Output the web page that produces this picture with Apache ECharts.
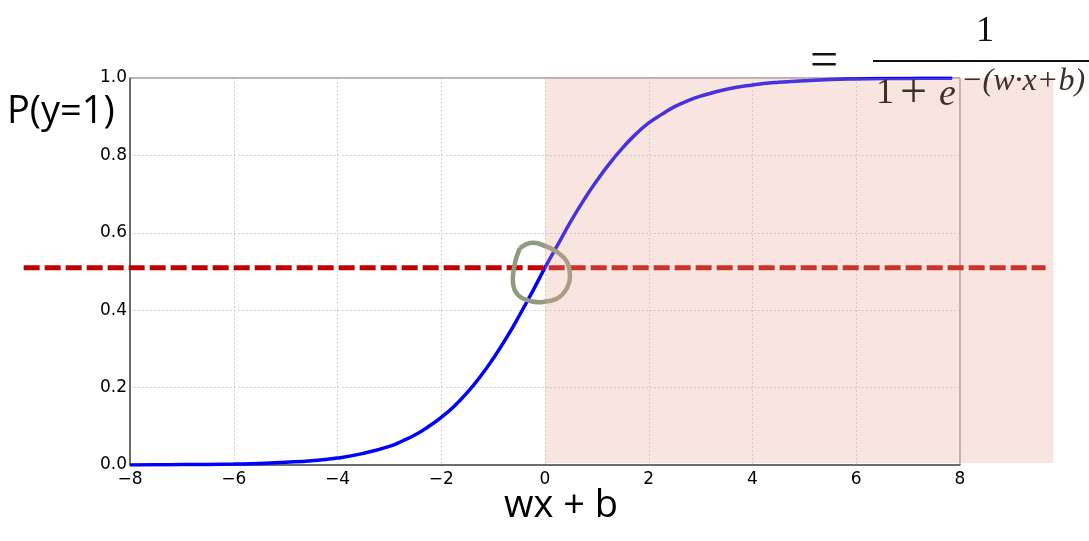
<!DOCTYPE html>
<html>
<head>
<meta charset="utf-8">
<script src="https://cdn.jsdelivr.net/npm/echarts@6/dist/echarts.min.js"></script>
<style>
  html, body { margin: 0; padding: 0; background: #fff; }
  #chart { width: 1089px; height: 541px; }
</style>
</head>
<body>
<div id="chart"></div>
<script>
// values
const zValues = [-8, -7.5, -7, -6.5, -6, -5.5, -5, -4.5, -4, -3.5,
  -3, -2.75, -2.5, -2.25, -2, -1.75, -1.5, -1.25, -1, -0.75, -0.5, -0.25,
  0, 0.25, 0.5, 0.75, 1, 1.25, 1.5, 1.75, 2, 2.25, 2.5, 2.75, 3,
  3.5, 4, 4.5, 5, 5.5, 6, 6.5, 7, 7.5, 7.85]
const pValues = [0.0003, 0.0006, 0.001, 0.0015, 0.0025, 0.004, 0.007, 0.011, 0.018, 0.03,
  0.048, 0.062, 0.078, 0.099, 0.123, 0.152, 0.187, 0.228, 0.275, 0.327, 0.385, 0.446,
  0.51, 0.57, 0.63, 0.685, 0.735, 0.78, 0.82, 0.855, 0.884, 0.906, 0.926, 0.941, 0.953,
  0.971, 0.982, 0.989, 0.993, 0.996, 0.9975, 0.9985, 0.999, 0.9994, 0.9996]
const thresholdP = 0.51
const thresholdSpan = [-10.05, 9.65]
const shadeSpan = [0, 9.8]
const xTicks = [-8, -6, -4, -2, 0, 2, 4, 6, 8]
const yTicks = [0, 0.2, 0.4, 0.6, 0.8, 1.0]

const chart = echarts.init(document.getElementById('chart'))

const curve = zValues.map((z, i) => [z, pValues[i]])

const option = {
  animation: false,
  grid: {
    left: 130, right: 129, top: 78, bottom: 76,
    show: true, borderColor: '#666', borderWidth: 1, backgroundColor: 'transparent'
  },
  xAxis: {
    type: 'value',
    min: xTicks[0], max: xTicks[xTicks.length - 1], interval: 2,
    axisLine: { onZero: false, lineStyle: { color: '#555', width: 1.5 } },
    axisTick: { show: false },
    axisLabel: {
      margin: 6, fontSize: 17, color: '#000', fontFamily: 'DejaVu Sans',
      formatter: v => String(v).replace('-', '\u2212')
    },
    splitLine: { show: true, lineStyle: { color: '#c4c4c4', type: [1.5, 2.5] } }
  },
  yAxis: {
    type: 'value',
    min: yTicks[0], max: yTicks[yTicks.length - 1], interval: 0.2,
    axisLine: { show: true, onZero: false, lineStyle: { color: '#555', width: 1.5 } },
    axisTick: { show: false },
    axisLabel: {
      margin: 3, fontSize: 17, color: '#000', fontFamily: 'DejaVu Sans',
      formatter: v => v.toFixed(1)
    },
    splitLine: { show: true, lineStyle: { color: '#c4c4c4', type: [1.5, 2.5] } }
  },
  series: [
    {
      type: 'line',
      data: curve,
      smooth: 0.5,
      showSymbol: false,
      z: 3,
      lineStyle: { color: '#0000ff', width: 3.5 }
    },
    {
      // dashed 0.5 threshold, runs past the plot on both sides
      type: 'custom',
      z: 4,
      clip: false,
      data: [[thresholdSpan[0], thresholdSpan[1], thresholdP]],
      encode: { x: [0, 1], y: 2 },
      renderItem: (params, api) => {
        const a = api.coord([api.value(0), api.value(2)])
        const b = api.coord([api.value(1), api.value(2)])
        return {
          type: 'line',
          shape: { x1: a[0], y1: a[1], x2: b[0], y2: b[1] },
          style: { stroke: '#c00000', lineWidth: 5, lineDash: [16, 5] }
        }
      }
    },
    {
      type: 'custom',
      z: 6,
      clip: false,
      data: [[shadeSpan[0], shadeSpan[1], yTicks[0], yTicks[yTicks.length - 1]]],
      encode: { x: [0, 1], y: [2, 3] },
      renderItem: (params, api) => {
        const a = api.coord([api.value(0), api.value(3)])
        const b = api.coord([api.value(1), api.value(2)])
        return {
          type: 'rect',
          shape: { x: a[0], y: a[1], width: b[0] - a[0], height: b[1] - a[1] - 2 },
          style: { fill: 'rgba(232,168,148,0.3)' }
        }
      }
    }
  ],
  graphic: [
    {
      type: 'polyline', z: 5,
      shape: {
        smooth: 0.4,
        points: [[520, 248], [530, 243], [540, 244], [557, 252], [567, 262], [570, 277], [567, 288],
          [558, 298], [543, 302], [530, 301], [518, 295], [513, 283], [515, 263], [520, 248]]
      },
      style: { stroke: '#8f9a7e', lineWidth: 4.5, fill: null }
    },
    {
      type: 'text', left: 7, top: 93, z: 10,
      style: { text: 'P(y=1)', fontSize: 38, fontFamily: 'Open Sans', fill: '#000' }
    },
    {
      type: 'text', left: 504, top: 487, z: 10,
      style: { text: 'wx + b', fontSize: 38, fontFamily: 'Open Sans', fill: '#000' }
    },
    {
      type: 'text', left: 810, top: 38, z: 10,
      style: { text: '=', fontSize: 50, fontFamily: 'Liberation Serif', fill: '#111' }
    },
    {
      type: 'text', left: 976, top: 14, z: 10,
      style: { text: '1', fontSize: 36, fontFamily: 'Liberation Serif', fill: '#111' }
    },
    {
      type: 'rect', z: 10,
      shape: { x: 873, y: 60, width: 216, height: 2 },
      style: { fill: '#111' }
    },
    {
      type: 'text', left: 876, top: 76, z: 10,
      style: { text: '1', fontSize: 36, fontFamily: 'Liberation Serif', fill: '#3d3029' }
    },
    {
      type: 'text', left: 900, top: 70, z: 10,
      style: { text: '+', fontSize: 48, fontFamily: 'Liberation Serif', fill: '#3d3029' }
    },
    {
      type: 'text', left: 939, top: 76, z: 10,
      style: { text: 'e', fontSize: 38, fontStyle: 'italic', fontFamily: 'Liberation Serif', fill: '#3d3029' }
    },
    {
      type: 'text', left: 961, top: 66, z: 10,
      style: { text: '\u2212(w\u00b7x+b)', fontSize: 32, fontStyle: 'italic', fontFamily: 'Liberation Serif', fill: '#3d3029' }
    }
  ]
}

chart.setOption(option)
window.addEventListener('resize', () => chart.resize())
</script>
</body>
</html>
